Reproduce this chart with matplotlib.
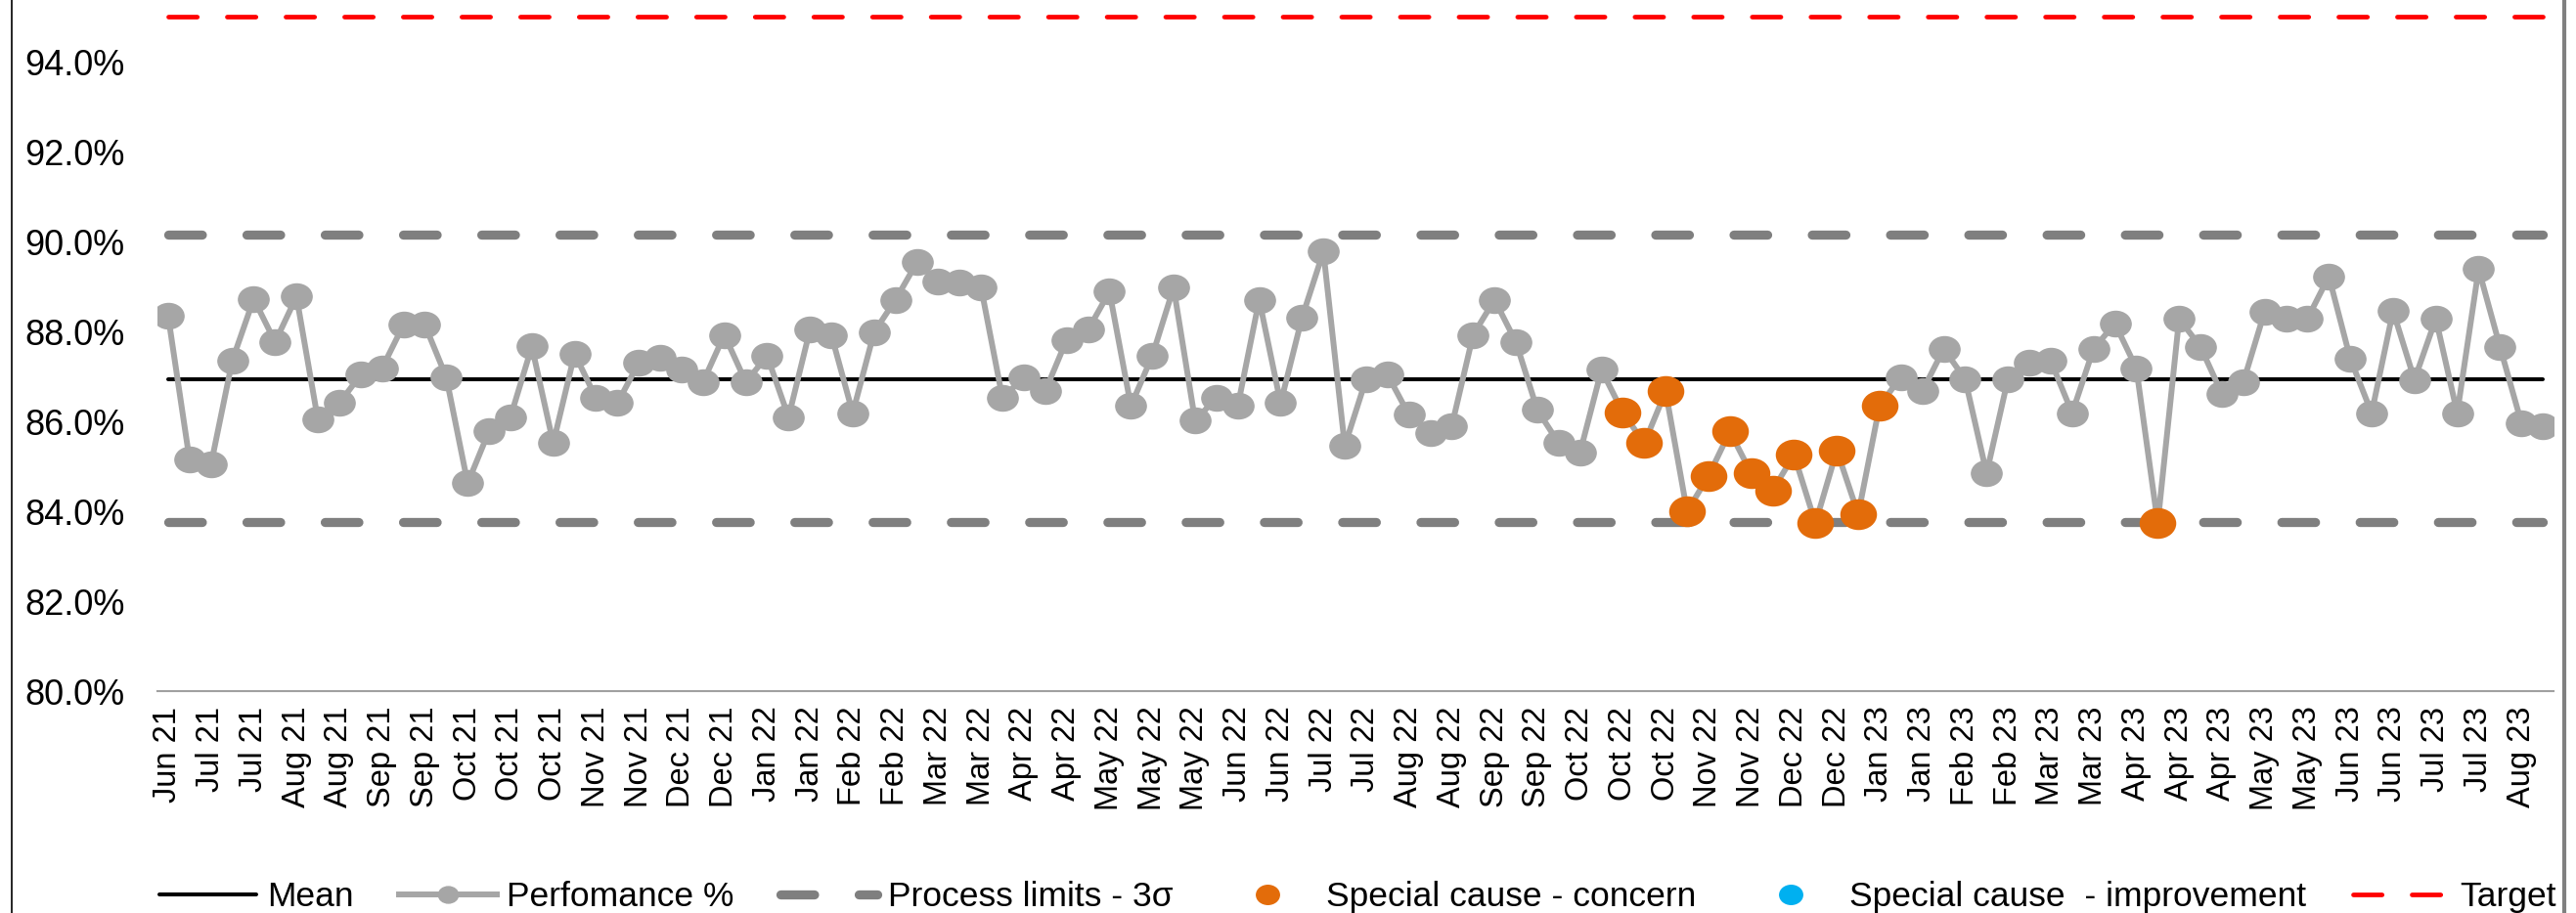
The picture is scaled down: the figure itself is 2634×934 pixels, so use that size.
import numpy as np
import matplotlib.pyplot as plt
import matplotlib.ticker as mticker
from matplotlib.path import Path
from matplotlib.transforms import Affine2D
from matplotlib.lines import Line2D
from matplotlib.legend_handler import HandlerLine2D

plt.rcParams['font.family'] = ['Liberation Sans', 'DejaVu Sans']

# weekly performance %, Jun 21 - Aug 23
performance = [
    88.35, 85.15, 85.04, 87.36, 88.73, 87.77, 88.78, 86.04, 86.41, 87.04,
    87.19, 88.15, 88.15, 86.99, 84.63, 85.79, 86.10, 87.67, 85.52, 87.51,
    86.52, 86.41, 87.31, 87.42, 87.15, 86.88, 87.93, 86.88, 87.46, 86.10,
    88.04, 87.93, 86.19, 87.99, 88.71, 89.54, 89.12, 89.09, 88.98, 86.52,
    86.99, 86.68, 87.82, 88.04, 88.89, 86.35, 87.46, 88.98, 86.03, 86.52,
    86.35, 88.71, 86.41, 88.31, 89.78, 85.46, 86.95, 87.04, 86.15, 85.74,
    85.90, 87.93, 88.71, 87.77, 86.26, 85.52, 85.32, 87.15, 86.20, 85.52,
    86.67, 84.00, 84.79, 85.78, 84.85, 84.47, 85.26, 83.74, 85.36, 83.94,
    86.36, 86.99, 86.68, 87.62, 86.94, 84.85, 86.95, 87.31, 87.35, 86.19,
    87.62, 88.18, 87.19, 83.74, 88.29, 87.66, 86.62, 86.88, 88.45, 88.29,
    88.29, 89.23, 87.40, 86.19, 88.46, 86.93, 88.29, 86.19, 89.39, 87.66,
    85.97, 85.89,
]
mean_level = 86.95
upper_limit = 90.15
lower_limit = 83.76
target = 95.0

# points flagged as special cause
concern_idx = list(range(68, 81)) + [93]
improvement_idx = []

tick_labels = [
    'Jun 21', 'Jul 21', 'Jul 21', 'Aug 21', 'Aug 21', 'Sep 21', 'Sep 21',
    'Oct 21', 'Oct 21', 'Oct 21', 'Nov 21', 'Nov 21', 'Dec 21', 'Dec 21',
    'Jan 22', 'Jan 22', 'Feb 22', 'Feb 22', 'Mar 22', 'Mar 22', 'Apr 22',
    'Apr 22', 'May 22', 'May 22', 'May 22', 'Jun 22', 'Jun 22', 'Jul 22',
    'Jul 22', 'Aug 22', 'Aug 22', 'Sep 22', 'Sep 22', 'Oct 22', 'Oct 22',
    'Oct 22', 'Nov 22', 'Nov 22', 'Dec 22', 'Dec 22', 'Jan 23', 'Jan 23',
    'Feb 23', 'Feb 23', 'Mar 23', 'Mar 23', 'Apr 23', 'Apr 23', 'Apr 23',
    'May 23', 'May 23', 'Jun 23', 'Jun 23', 'Jul 23', 'Jul 23', 'Aug 23',
]


class DotRight(HandlerLine2D):
    # marker-only entries: put the dot near the text
    def get_xdata(self, legend, xdescent, ydescent, width, height, fontsize):
        xdata, xm = super().get_xdata(legend, xdescent, ydescent, width, height, fontsize)
        return xdata, np.full_like(xm, -xdescent + 0.8 * width)


W, H = 2634, 934
fig = plt.figure(figsize=(W / 100, H / 100), dpi=100)
ax = fig.add_axes([161 / W, 1 - 707.3 / H, 2450 / W, 707.3 / H])

n = len(performance)
x = np.arange(n)
y = np.array(performance)
ends = [0, n - 1]

oval = Path.unit_circle().transformed(Affine2D().scale(1.2, 1.0))

ax.plot(ends, [upper_limit] * 2, color='#7F7F7F', lw=6.7, dashes=(3.7, 4.9),
        dash_capstyle='round', zorder=1, label='Process limits - 3σ')
ax.plot(ends, [lower_limit] * 2, color='#7F7F7F', lw=6.7, dashes=(3.7, 4.9),
        dash_capstyle='round', zorder=1)
ax.plot(ends, [target] * 2, color='#FF0000', lw=3.4, dashes=(6.2, 6.5),
        dash_capstyle='round', zorder=1, label='Target')
ax.plot(ends, [mean_level] * 2, color='black', lw=2.9, solid_capstyle='round',
        zorder=2, label='Mean')
ax.plot(x, y, color='#A6A6A6', lw=4.3, marker=oval, ms=22.5, zorder=3,
        label='Perfomance %')
ax.plot(x[concern_idx], y[concern_idx], ls='none', marker=oval, ms=26,
        color='#E36C0A', zorder=4, label='Special cause - concern')
ax.plot(x[improvement_idx], y[improvement_idx], ls='none', marker=oval, ms=26,
        color='#00B0F0', zorder=4, label='Special cause  - improvement')

ax.set_xlim(-0.5, n - 0.5)
ax.set_ylim(80, 80 + 707.3 / 46)
ax.set_yticks(np.arange(80, 95, 2))
ax.yaxis.set_major_formatter(mticker.FuncFormatter(lambda v, p: f'{v:.1f}%'))
ax.set_xticks(x[::2])
ax.set_xticklabels(tick_labels, rotation=90)
ax.tick_params(axis='x', length=0, pad=11, labelsize=23.5)
ax.tick_params(axis='y', length=0, pad=24, labelsize=26)

for side in ['left', 'right', 'top']:
    ax.spines[side].set_visible(False)
ax.spines['bottom'].set_color('#A0A0A0')
ax.spines['bottom'].set_linewidth(1.5)

handles, labels = ax.get_legend_handles_labels()
order = ['Mean', 'Perfomance %', 'Process limits - 3σ', 'Special cause - concern',
         'Special cause  - improvement', 'Target']
hmap = dict(zip(labels, handles))
dot = DotRight(numpoints=1)
fig.legend([hmap[k] for k in order], order, loc='lower left',
           bbox_to_anchor=(163 / W, 0.0, 2451 / W, 0.052), mode='expand',
           ncol=6, frameon=False, fontsize=25.5, handlelength=2.8,
           handletextpad=0.3, columnspacing=0.5, markerscale=0.65,
           borderaxespad=0, borderpad=0,
           handler_map={hmap[order[3]]: dot, hmap[order[4]]: dot})

# chart area border
fig.add_artist(Line2D([12 / W, 12 / W], [0, 1], color='black', lw=1.2))
fig.add_artist(Line2D([2622 / W, 2622 / W], [0, 1], color='#808080', lw=3))

fig.savefig('out.png', dpi=100)
